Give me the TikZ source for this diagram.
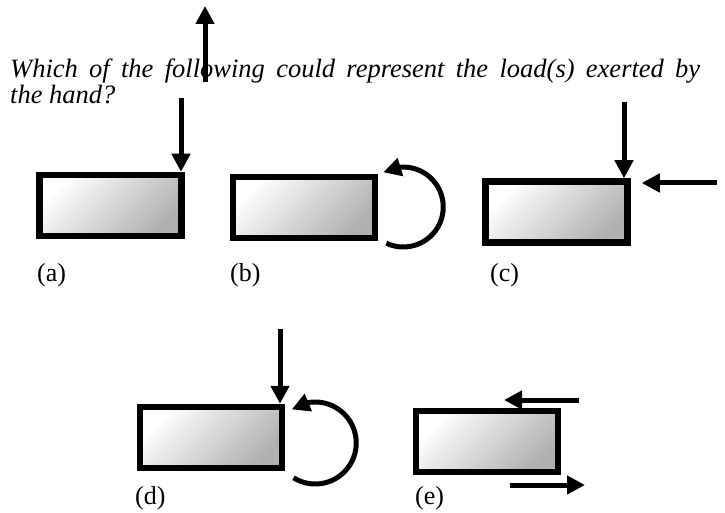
\documentclass[tikz,border=0pt]{standalone}
\usepackage{fontspec}
\setmainfont{Liberation Serif}
\usetikzlibrary{arrows.meta,bending,calc,positioning}
\definecolor{HandInk}{HTML}{000000}
\definecolor{HandShade}{HTML}{B0B0B0}
\tikzset{
  hand/box/.style={
    draw=HandInk, line width=6.5pt, inner sep=0pt,
    minimum width=142pt, minimum height=61pt,
    top color=white, bottom color=HandShade, shading angle=45
  },
  hand/force/.style={
    -{Triangle[length=18pt,width=18pt]}, line width=5pt, draw=HandInk
  },
  hand/moment/.style={hand/force},
  hand/label/.style={font=\fontsize{26}{30}\selectfont, anchor=base west, inner sep=0pt},
  hand/question/.style={font=\fontsize{26.5}{30}\selectfont\itshape, anchor=base west, inner sep=0pt}
}

\begin{document}
\begin{tikzpicture}[x=1pt,y=1pt]
  \useasboundingbox (0,0) rectangle (725,512);
  \node[hand/question] (qline1) at (10,434)
    {\makebox[690pt][s]{Which of the following could represent the load(s) exerted by}};
  \node[hand/question] (qline2) at (10,408) {the hand?};
  \node[hand/box] (boxa) at (110.5,306.5) {};
  \node[hand/box] (boxb) at (304,304.5) {};
  \node[hand/box] (boxc) at (556.5,300) {};
  \node[hand/box] (boxd) at (211,74.5) {};
  \node[hand/box] (boxe) at (487,70.5) {};
  \node[hand/label] (lbla) at (37,231) {(a)};
  \node[hand/label] (lblb) at (230,231) {(b)};
  \node[hand/label] (lblc) at (490,231) {(c)};
  \node[hand/label] (lbld) at (135,8) {(d)};
  \node[hand/label] (lble) at (415,8) {(e)};
  % forces
  \coordinate (upfoot) at (205,430);
  \coordinate (uptip) at (205,506);
  \draw[hand/force] (upfoot) -- (uptip);
  \coordinate (fa) at (181,414);
  \draw[hand/force] (fa) -- (fa |- boxa.north);
  \coordinate (fc) at (624,410);
  \draw[hand/force] (fc) -- (fc |- boxc.north);
  \coordinate (hc) at (717,329);
  \draw[hand/force] (hc) -- ($(hc -| boxc.east)+(11,0)$);
  \coordinate (fd) at (280,183);
  \draw[hand/force] (fd) -- (fd |- boxd.north);
  \coordinate (etop) at (579,112);
  \coordinate (etoptip) at (504,112);
  \draw[hand/force] (etop) -- (etoptip);
  \coordinate (ebot) at (510,27);
  \coordinate (ebottip) at (585,27);
  \draw[hand/force] (ebot) -- (ebottip);
  % moments
  \draw[hand/moment] ($(boxb.east)+(25,0.5)$) ++(-115:40)
    arc[start angle=-115,end angle=120,radius=40];
  \draw[hand/moment] ($(boxd.east)+(30,-5.5)$) ++(-122:41)
    arc[start angle=-122,end angle=125,radius=41];
\end{tikzpicture}
\end{document}
